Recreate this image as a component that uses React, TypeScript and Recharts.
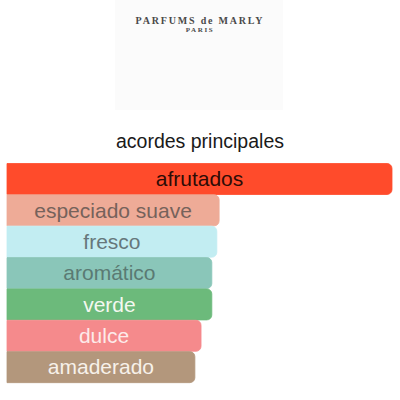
import React from "react";
import { BarChart, Bar, XAxis, YAxis, Cell, LabelList } from "recharts";

const categories = ["afrutados", "especiado suave", "fresco", "aromático", "verde", "dulce", "amaderado"];
const values = [100, 55.1, 54.5, 53.2, 53.2, 50.4, 48.8];
const barColors = ["#FF4B2B", "#EEAB97", "#C2EDF2", "#8AC6B9", "#6CBA7B", "#F58A8C", "#B3977C"];
const textColors = ["#2e0c06", "#76625b", "#66777b", "#5a7a73", "#f4f8f0", "#fdeaea", "#f7f1ea"];

const data = categories.map((name, i) => ({ name, value: values[i] }));

const FONT = "'Liberation Sans', Arial, sans-serif";

const renderLabel = (props: any) => {
  const { x, y, width, height, index } = props;
  const cx = Number(x) + Number(width) / 2;
  const cy = Number(y) + Number(height) / 2 + 7.3;
  return (
    <text
      x={cx}
      y={cy}
      textAnchor="middle"
      fill={textColors[index]}
      fontSize={21}
      fontFamily={FONT}
    >
      {categories[index]}
    </text>
  );
};

export default function App() {
  return (
    <div style={{ position: "absolute", top: 0, left: 0, width: 400, height: 400, background: "#fff", overflow: "hidden" }}>
      <div style={{ position: "absolute", left: 115, top: 0, width: 168, height: 110, background: "#fbfbfb" }} />
      <svg style={{ position: "absolute", left: 0, top: 0 }} width={400} height={160}>
        <text x={200} y={24} textAnchor="middle" fontFamily="'Liberation Serif', 'Times New Roman', serif" fontSize={10} fontWeight={600} letterSpacing={1.8} fill="#4a4a4a">
          PARFUMS de MARLY
        </text>
        <text x={200} y={32} textAnchor="middle" fontFamily="'Liberation Serif', 'Times New Roman', serif" fontSize={7} fontWeight={600} letterSpacing={1.6} fill="#4a4a4a">
          PARIS
        </text>
        <text x={200} y={147.7} textAnchor="middle" fontFamily={FONT} fontSize={19.5} fill="#1a1a1a">
          acordes principales
        </text>
      </svg>
      <div style={{ position: "absolute", left: 0, top: 0 }}>
        <BarChart
          width={400}
          height={400}
          data={data}
          layout="vertical"
          margin={{ top: 163.5, right: 8, bottom: 17, left: 7 }}
          barCategoryGap={0}
        >
          <XAxis type="number" domain={[0, 100]} hide />
          <YAxis type="category" dataKey="name" hide width={0} />
          <Bar dataKey="value" radius={[0, 5, 5, 0]} isAnimationActive={false}>
            {data.map((d, i) => (
              <Cell key={d.name} fill={barColors[i]} stroke={barColors[i]} strokeWidth={0.8} />
            ))}
            <LabelList dataKey="value" content={renderLabel} />
          </Bar>
        </BarChart>
      </div>
    </div>
  );
}
